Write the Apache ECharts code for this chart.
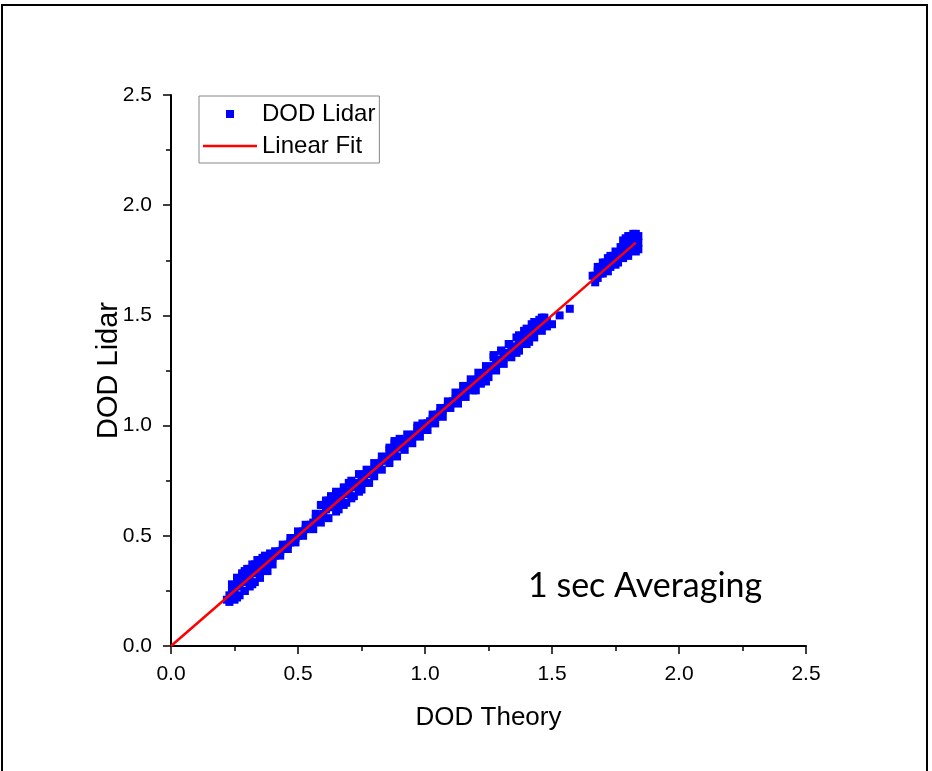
<!DOCTYPE html>
<html>
<head>
<meta charset="utf-8">
<script src="https://cdn.jsdelivr.net/npm/echarts@6/dist/echarts.min.js"></script>
<style>
html,body{margin:0;padding:0;background:#fff;}
#chart{width:932px;height:771px;}
</style>
</head>
<body>
<div id="chart"></div>
<script>
// Axis ticks
var xTicks = [0.0, 0.5, 1.0, 1.5, 2.0, 2.5];
var yTicks = [0.0, 0.5, 1.0, 1.5, 2.0, 2.5];

// DOD Lidar vs DOD Theory
var bandMid = [[0.22,0.21],[0.23,0.23],[0.24,0.25],[0.25,0.24],[0.26,0.27],[0.27,0.28],[0.28,0.29],[0.29,0.30],[0.30,0.31],[0.31,0.31],[0.32,0.33],[0.33,0.34],[0.34,0.34],[0.35,0.36],[0.36,0.36],[0.37,0.37],[0.38,0.38],[0.39,0.39],[0.40,0.40],[0.41,0.41],[0.42,0.42],[0.43,0.43],[0.44,0.44],[0.45,0.45],[0.46,0.46],[0.47,0.47],[0.48,0.48],[0.49,0.49],[0.50,0.50],[0.51,0.51],[0.52,0.52],[0.53,0.53],[0.54,0.54],
[0.55,0.55],[0.56,0.56],[0.57,0.58],[0.58,0.59],[0.59,0.59],[0.60,0.60],[0.61,0.62],[0.62,0.63],[0.63,0.63],[0.64,0.65],[0.65,0.65],[0.66,0.66],[0.67,0.68],[0.68,0.69],[0.69,0.69],[0.70,0.70],[0.71,0.72],[0.72,0.73],[0.73,0.73],[0.74,0.74],[0.75,0.75],[0.76,0.76],[0.77,0.78],[0.78,0.79],[0.79,0.79],[0.80,0.80],[0.81,0.81],[0.82,0.82],[0.83,0.84],[0.84,0.85],[0.85,0.85],[0.86,0.86],[0.87,0.88],[0.88,0.89],[0.89,0.90],[0.90,0.91],[0.91,0.91],[0.92,0.92],[0.93,0.93],[0.94,0.94],[0.95,0.95],[0.96,0.96],[0.97,0.97],[0.98,0.98],[0.99,0.99],[1.00,1.00],[1.01,1.01],[1.02,1.02],[1.03,1.03],[1.04,1.04],[1.05,1.05],[1.06,1.06],[1.07,1.07],[1.08,1.08],[1.09,1.09],[1.10,1.10],[1.11,1.11],[1.12,1.12],[1.13,1.13],[1.14,1.14],[1.15,1.15],[1.16,1.16],[1.17,1.17],[1.18,1.18],[1.19,1.19],[1.20,1.20],[1.21,1.21],[1.22,1.22],[1.23,1.23],[1.24,1.24],[1.25,1.25],[1.26,1.26],[1.27,1.27],[1.28,1.28],[1.29,1.29],[1.30,1.30],[1.31,1.31],[1.32,1.32],[1.33,1.33],[1.34,1.34],[1.35,1.35],[1.36,1.36],[1.37,1.37],[1.38,1.38],[1.39,1.39],[1.40,1.40],[1.41,1.41],[1.42,1.42],[1.43,1.43],[1.44,1.44],[1.45,1.44],[1.46,1.45],[1.47,1.46],[1.48,1.47]];
var bandUpper = [[0.24,0.28],[0.26,0.30],[0.28,0.32],[0.29,0.34],[0.31,0.35],[0.33,0.37],[0.35,0.39],[0.37,0.41],[0.39,0.42],[0.41,0.43],[0.44,0.46],[0.47,0.49],[0.50,0.52],[0.53,0.55],
[0.57,0.60],[0.60,0.64],[0.62,0.66],[0.65,0.69],[0.68,0.72],[0.71,0.75],[0.74,0.78],[0.77,0.80],[0.80,0.83],[0.83,0.86],[0.86,0.89],[0.88,0.92],[0.90,0.94],[0.93,0.96],[0.97,0.99],[0.99,1.01],[1.03,1.05],[1.06,1.08],[1.09,1.11],[1.12,1.15],[1.15,1.18],[1.18,1.21],[1.21,1.24],[1.24,1.27],[1.27,1.31],[1.30,1.34],[1.33,1.37],[1.36,1.40],[1.39,1.43],[1.42,1.46],[1.45,1.48],[1.47,1.49]];
var bandUpper2 = [[0.26,0.31],[0.28,0.33],[0.30,0.35],[0.32,0.37],[0.34,0.39],[0.36,0.40],[0.59,0.64],[0.61,0.66],[0.63,0.68],[0.65,0.70],[0.70,0.74],[0.86,0.90],[0.88,0.93],[0.90,0.93],[0.97,1.00],[1.27,1.32],[1.30,1.34],[1.33,1.37],[1.37,1.41],[1.40,1.44],[1.43,1.47],[1.46,1.49]];
var bandLower = [[0.23,0.20],[0.25,0.21],[0.27,0.23],[0.29,0.25],[0.31,0.27],[0.33,0.29],[0.35,0.31],[0.37,0.34],[0.40,0.37],[0.43,0.41],[0.46,0.44],[0.49,0.47],[0.52,0.50],
[0.56,0.53],[0.59,0.56],[0.62,0.58],[0.65,0.61],[0.68,0.64],[0.71,0.67],[0.74,0.70],[0.77,0.74],[0.80,0.77],[0.83,0.80],[0.86,0.83],[0.89,0.86],[0.92,0.89],[0.95,0.92],[0.98,0.95],[1.01,0.98],[1.04,1.01],[1.07,1.04],[1.10,1.08],[1.13,1.10],[1.16,1.13],[1.19,1.16],[1.22,1.19],[1.25,1.22],[1.28,1.25],[1.31,1.28],[1.34,1.31],[1.37,1.34],[1.40,1.37],[1.43,1.40],[1.46,1.43],[1.48,1.45]];
var bandLower2 = [[0.26,0.22],[0.29,0.25],[0.32,0.28],[0.35,0.31],[0.38,0.34],[0.66,0.62],[0.69,0.65],[0.72,0.68],[0.75,0.71],[0.78,0.74],[1.20,1.16],[1.24,1.20],[1.36,1.33],[1.41,1.38]];
var outliers = [[1.50,1.46],[1.53,1.50],[1.57,1.53]];
var topCluster = [[1.67,1.68],[1.68,1.70],[1.69,1.69],[1.70,1.72],[1.71,1.71],[1.72,1.73],[1.73,1.75],[1.74,1.74],[1.75,1.76],[1.76,1.78],[1.77,1.77],[1.78,1.80],[1.79,1.82],[1.80,1.83],[1.81,1.84],[1.82,1.85],[1.83,1.84],[1.84,1.86],[1.82,1.82],[1.83,1.81],[1.80,1.79],[1.78,1.84],[1.79,1.85],[1.81,1.86],[1.84,1.83],[1.76,1.74],[1.73,1.72],[1.70,1.69],[1.68,1.67],[1.72,1.76],[1.75,1.79],
[1.67,1.65],[1.69,1.72],[1.71,1.74],[1.72,1.70],[1.74,1.77],[1.75,1.73],[1.77,1.81],[1.78,1.76],[1.80,1.86],[1.81,1.81],[1.82,1.87],[1.83,1.87],[1.84,1.80],[1.83,1.79],[1.80,1.77],[1.66,1.68],[1.68,1.72],[1.70,1.74],[1.73,1.77]];

// Linear fit end points
var fitX = [0.0, 1.83];
var fitY = [0.0, 1.83];

var lidarData = bandMid.concat(bandUpper, bandUpper2, bandLower, bandLower2, outliers, topCluster);
var fitData = fitX.map(function (x, i) { return [x, fitY[i]]; });

var chart = echarts.init(document.getElementById('chart'));
var FONT = '"Liberation Sans", Arial, sans-serif';

function axisCommon(name, ticks) {
  return {
    type: 'value',
    min: ticks[0],
    max: ticks[ticks.length - 1],
    interval: 0.5,
    name: name,
    nameLocation: 'middle',
    nameMoveOverlap: false,
    nameTextStyle: { fontFamily: FONT, fontSize: 26, color: '#000' },
    axisLine: { show: true, onZero: false, lineStyle: { color: '#000', width: 2 } },
    axisTick: { show: true, inside: false, length: 8, lineStyle: { color: '#000', width: 1.5 } },
    minorTick: { show: true, splitNumber: 2, length: 5, lineStyle: { color: '#000', width: 1.5 } },
    splitLine: { show: false },
    axisLabel: {
      fontFamily: FONT, fontSize: 21, color: '#000',
      formatter: function (v) { return v.toFixed(1); }
    }
  };
}

var xAxis = axisCommon('DOD Theory', xTicks);
xAxis.nameGap = 59;
xAxis.axisLabel.margin = 18;
var yAxis = axisCommon('DOD Lidar', yTicks);
yAxis.nameGap = 48;
yAxis.nameTextStyle.fontSize = 29;
yAxis.axisLabel.margin = 19;

chart.setOption({
  backgroundColor: '#fff',
  animation: false,
  grid: { left: 171, right: 126, top: 95, bottom: 125, containLabel: false },
  xAxis: xAxis,
  yAxis: yAxis,
  legend: {
    orient: 'vertical',
    left: 199,
    top: 96,
    padding: [6, 4, 5, 4],
    itemGap: 8,
    itemWidth: 54,
    itemHeight: 10,
    itemTextGap: 6,
    borderColor: '#888',
    borderWidth: 1,
    textStyle: { fontFamily: FONT, fontSize: 24, color: '#000', lineHeight: 20 },
    data: [
      { name: 'DOD Lidar', icon: 'path://M0,0L0,0M23,1L31,1L31,9L23,9ZM54,10L54,10' },
      { name: 'Linear Fit', icon: 'path://M0,0L0,0M0,3.75L54,3.75L54,6.25L0,6.25ZM54,10L54,10' }
    ]
  },
  graphic: [
    {
      type: 'rect', silent: true, z: 100,
      shape: { x: 2, y: 5, width: 925, height: 800 },
      style: { fill: 'none', stroke: '#000', lineWidth: 2 }
    },
    {
      type: 'text', silent: true, z: 100,
      x: 528, y: 586,
      style: { text: '1 sec Averaging', fontFamily: 'Lato, "Open Sans", sans-serif', fontSize: 34, fill: '#000', verticalAlign: 'middle', align: 'left' }
    }
  ],
  series: [
    {
      name: 'DOD Lidar',
      type: 'scatter',
      symbol: 'rect',
      symbolSize: 8,
      itemStyle: { color: '#0000ff', opacity: 1 },
      data: lidarData,
      z: 2
    },
    {
      name: 'Linear Fit',
      type: 'line',
      symbol: 'none',
      lineStyle: { color: '#ff0000', width: 2.5 },
      itemStyle: { color: '#ff0000' },
      data: fitData,
      z: 3
    }
  ]
});
</script>
</body>
</html>
